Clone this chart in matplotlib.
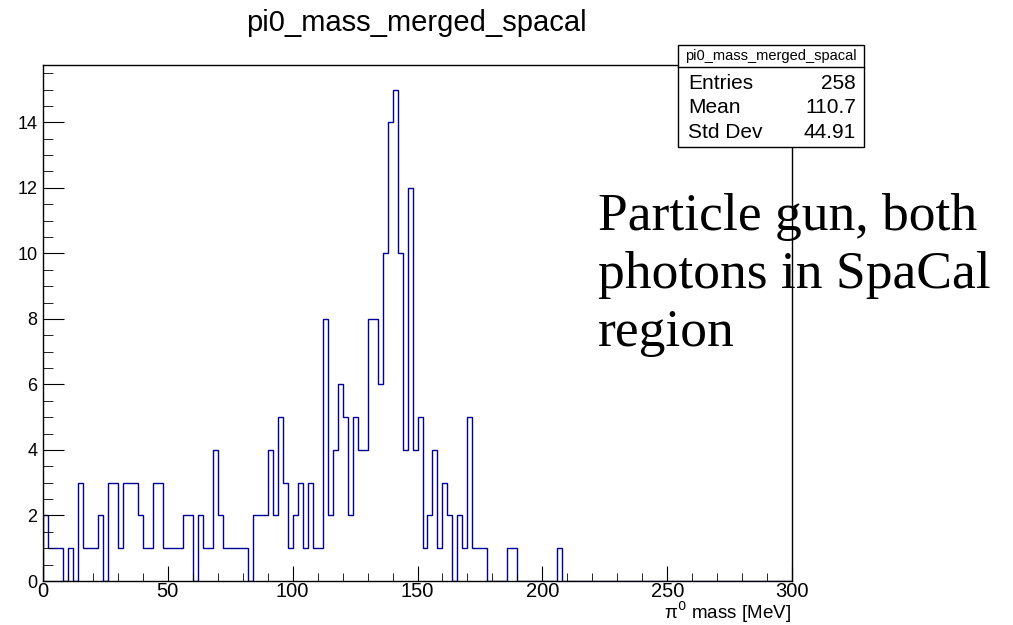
import numpy as np
import matplotlib
matplotlib.use("Agg")
import matplotlib.pyplot as plt
from matplotlib.patches import Rectangle
from matplotlib.ticker import MultipleLocator

# pi0 mass histogram, 150 bins of 2 MeV from 0 to 300
bin_lo = 0.0
bin_hi = 300.0
counts = [2, 1, 1, 1, 0, 1, 0, 3, 1, 1,
          1, 2, 0, 3, 3, 1, 3, 3, 3, 2,
          1, 1, 3, 3, 1, 1, 1, 1, 2, 2,
          0, 2, 1, 1, 4, 2, 1, 1, 1, 1,
          1, 0, 2, 2, 2, 4, 2, 5, 3, 1,
          2, 3, 1, 3, 1, 1, 8, 2, 4, 6,
          5, 2, 5, 4, 4, 8, 8, 6, 10, 14,
          15, 10, 4, 12, 4, 5, 1, 2, 4, 1,
          3, 2, 0, 2, 1, 5, 1, 1, 1, 0,
          0, 0, 0, 1, 1, 0, 0, 0, 0, 0,
          0, 0, 0, 1] + [0] * 46

hist_name = "pi0_mass_merged_spacal"
stat_names = ["Entries", "Mean", "Std Dev"]
stat_values = ["258", "110.7", "44.91"]
note = "Particle gun, both\nphotons in SpaCal\nregion"

plt.rcParams["font.family"] = ["Liberation Sans", "DejaVu Sans"]

fig = plt.figure(figsize=(10.13, 6.25), dpi=100)
ax = fig.add_axes([0.0424, 0.0704, 0.7395, 0.8256])

edges = np.linspace(bin_lo, bin_hi, len(counts) + 1)
ax.stairs(counts, edges, color="#000099", linewidth=1.0)

ax.set_xlim(bin_lo, bin_hi)
ax.set_ylim(0, 1.05 * max(counts))

ax.xaxis.set_major_locator(MultipleLocator(50))
ax.xaxis.set_minor_locator(MultipleLocator(10))
ax.yaxis.set_major_locator(MultipleLocator(2))
ax.yaxis.set_minor_locator(MultipleLocator(0.5))
ax.tick_params(axis="both", which="both", direction="in")
ax.tick_params(axis="y", which="major", length=15, pad=4, labelsize=13)
ax.tick_params(axis="y", which="minor", length=7.5)
ax.tick_params(axis="x", which="major", length=11, pad=1, labelsize=14.5)
ax.tick_params(axis="x", which="minor", length=5.5)
for s in ax.spines.values():
    s.set_linewidth(1.0)

fig.text(0.411, 0.963, hist_name, ha="center", va="center", fontsize=21)
fig.text(0.781, 0.0, "π$^{0}$ mass [MeV]", ha="right", va="bottom", fontsize=13.5,
         math_fontfamily="dejavusans")

# stats box
bx0, bx1, by0, by1 = 0.669, 0.853, 0.765, 0.928
fig.patches.append(Rectangle((bx0, by0), bx1 - bx0, by1 - by0, transform=fig.transFigure,
                             facecolor="white", edgecolor="black", linewidth=1.0, zorder=5))
fig.add_artist(plt.Line2D([bx0, bx1], [0.893, 0.893], color="black", linewidth=1.0, zorder=6))
fig.text((bx0 + bx1) / 2, 0.911, hist_name, ha="center", va="center", fontsize=10.5, zorder=7)
for i, (n, v) in enumerate(zip(stat_names, stat_values)):
    yy = 0.867 - i * 0.0395
    fig.text(0.679, yy, n, ha="left", va="center", fontsize=15, zorder=7)
    fig.text(0.845, yy, v, ha="right", va="center", fontsize=15, zorder=7)

fig.text(0.59, 0.56, note, ha="left", va="center", fontsize=38.5,
         family=["Liberation Serif", "DejaVu Serif"], linespacing=1.26, zorder=8)

fig.savefig("out.png", dpi=100)
